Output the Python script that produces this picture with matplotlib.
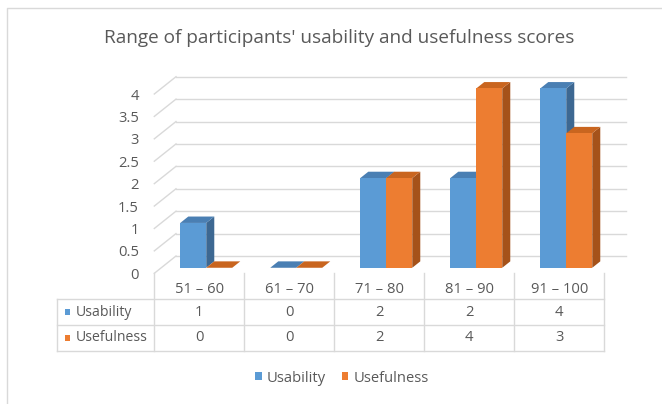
import numpy as np
import matplotlib
matplotlib.use("Agg")
import matplotlib.pyplot as plt
from matplotlib.patches import Polygon, Patch
from matplotlib.lines import Line2D

# ---- data ----
categories = ["51 – 60", "61 – 70", "71 – 80", "81 – 90", "91 – 100"]
usability = [1, 0, 2, 2, 4]
usefulness = [0, 0, 2, 4, 3]
series_names = ["Usability", "Usefulness"]
y_ticks = [0, 0.5, 1, 1.5, 2, 2.5, 3, 3.5, 4]
title = "Range of participants' usability and usefulness scores"

# ---- style ----
FONT = "Open Sans"
TXT = "#595959"
GRID = "#D9D9D9"
face_cols = ["#5B9BD5", "#ED7D31"]
top_cols = ["#4A7FB3", "#C9651F"]
side_cols = ["#3D6892", "#A5521A"]
FS = 10.6

W, H = 662, 404
fig = plt.figure(figsize=(W / 100, H / 100), dpi=100)
fig.patch.set_facecolor("white")

def fx(px):
    return px / W

def fy(py):
    return 1 - py / H

# outer frame (left and top)
fig.add_artist(Line2D([fx(7), fx(7), fx(662)], [fy(404), fy(8), fy(8)],
                      color=GRID, lw=1.0, transform=fig.transFigure))

fig.text(fx(339), fy(38), title, ha="center", va="center",
         fontsize=13.7, color=TXT, family=FONT)

# main plot axes = front plane
x0, x1 = 154.3, 604.3
yb, yt = 273.3, 94.0
ax = fig.add_axes([fx(x0), fy(yb), fx(x1) - fx(x0), fy(yt) - fy(yb)])
ax.set_xlim(0, len(categories))
ax.set_ylim(0, 4)
ax.set_facecolor("none")
for s in ax.spines.values():
    s.set_visible(False)
ax.set_xticks([])
ax.set_yticks(y_ticks)
ax.set_yticklabels([f"{t:g}" for t in y_ticks], family=FONT, fontsize=FS, color=TXT)
ax.tick_params(axis="y", length=0, pad=11)

px_per_x = (x1 - x0) / len(categories)
px_per_y = (yb - yt) / 4
DX = 21.7 / px_per_x      # depth offset in x data units
DY = 17.3 / px_per_y      # depth offset in y data units
n = len(categories)

# back wall gridlines and left diagonals
for t in y_ticks:
    ax.plot([DX, n + DX], [t + DY, t + DY], color=GRID, lw=1.0, clip_on=False, zorder=1)
    ax.plot([0, DX], [t, t + DY], color=GRID, lw=1.0, clip_on=False, zorder=1)

# 3D-looking bars
f0, f1 = 0.32, 0.69
bw = 26 / px_per_x
ddx, ddy = (f1 - f0) * DX, (f1 - f0) * DY
base = f0 * DY
z = 3
for i in range(n):
    c = i + 0.5 + f0 * DX
    for k, vals in enumerate([usability, usefulness]):
        v = vals[i]
        xl = c - bw if k == 0 else c
        xr = xl + bw
        top = base + v
        if v > 0:
            ax.bar(xl, v, bottom=base, width=bw, align="edge", color=face_cols[k],
                   linewidth=0, zorder=z + 2, clip_on=False)
            ax.add_patch(Polygon([(xr, base), (xr, top), (xr + ddx, top + ddy), (xr + ddx, base + ddy)],
                                 closed=True, facecolor=side_cols[k], edgecolor="none",
                                 zorder=z + 1, clip_on=False))
        ax.add_patch(Polygon([(xl, top), (xr, top), (xr + ddx, top + ddy), (xl + ddx, top + ddy)],
                             closed=True, facecolor=top_cols[k], edgecolor="none",
                             zorder=z + 1, clip_on=False))
        z += 3

# ---- data table ----
tl, tr, ttop, tbot = 57.3, 604.3, 273.3, 350.7
tab = fig.add_axes([fx(tl), fy(tbot), fx(tr) - fx(tl), fy(ttop) - fy(tbot)])
lab_w = (x0 - tl) / px_per_x
tab.set_xlim(-lab_w, n)
tab.set_ylim(3, 0)
tab.axis("off")
lc = "#D9D9D9"
for i in range(n + 1):
    tab.plot([i, i], [0, 3], color=lc, lw=1.0, clip_on=False)
tab.plot([-lab_w, -lab_w], [1, 3], color=lc, lw=1.0, clip_on=False)
for r in [1, 2, 3]:
    tab.plot([-lab_w, n], [r, r], color=lc, lw=1.0, clip_on=False)
for i, cat in enumerate(categories):
    tab.text(i + 0.5, 0.62, cat, ha="center", va="center", family=FONT, fontsize=FS, color=TXT)
    tab.text(i + 0.5, 1.5, str(usability[i]), ha="center", va="center", family=FONT, fontsize=FS, color=TXT)
    tab.text(i + 0.5, 2.5, str(usefulness[i]), ha="center", va="center", family=FONT, fontsize=FS, color=TXT)
key = 5.5 / px_per_x
for r, name in enumerate(series_names):
    kx = -lab_w + 7.5 / px_per_x
    tab.add_patch(plt.Rectangle((kx, 1.5 + r - 0.11), key, 0.22, facecolor=face_cols[r],
                                edgecolor="none", clip_on=False))
    tab.text(-lab_w + 18.5 / px_per_x, 1.5 + r, name, ha="left", va="center",
             family=FONT, fontsize=10.1, color=TXT)

# ---- legend ----
handles = [Patch(facecolor=face_cols[k], edgecolor="none", label=series_names[k]) for k in range(2)]
fig.legend(handles=handles, loc="center", bbox_to_anchor=(fx(342), fy(378)), ncol=2,
           frameon=False, handlelength=0.42, handleheight=0.42, handletextpad=0.35,
           columnspacing=1.1, prop={"family": FONT, "size": FS}, labelcolor=TXT)

fig.savefig("out.png", dpi=100, facecolor="white")
